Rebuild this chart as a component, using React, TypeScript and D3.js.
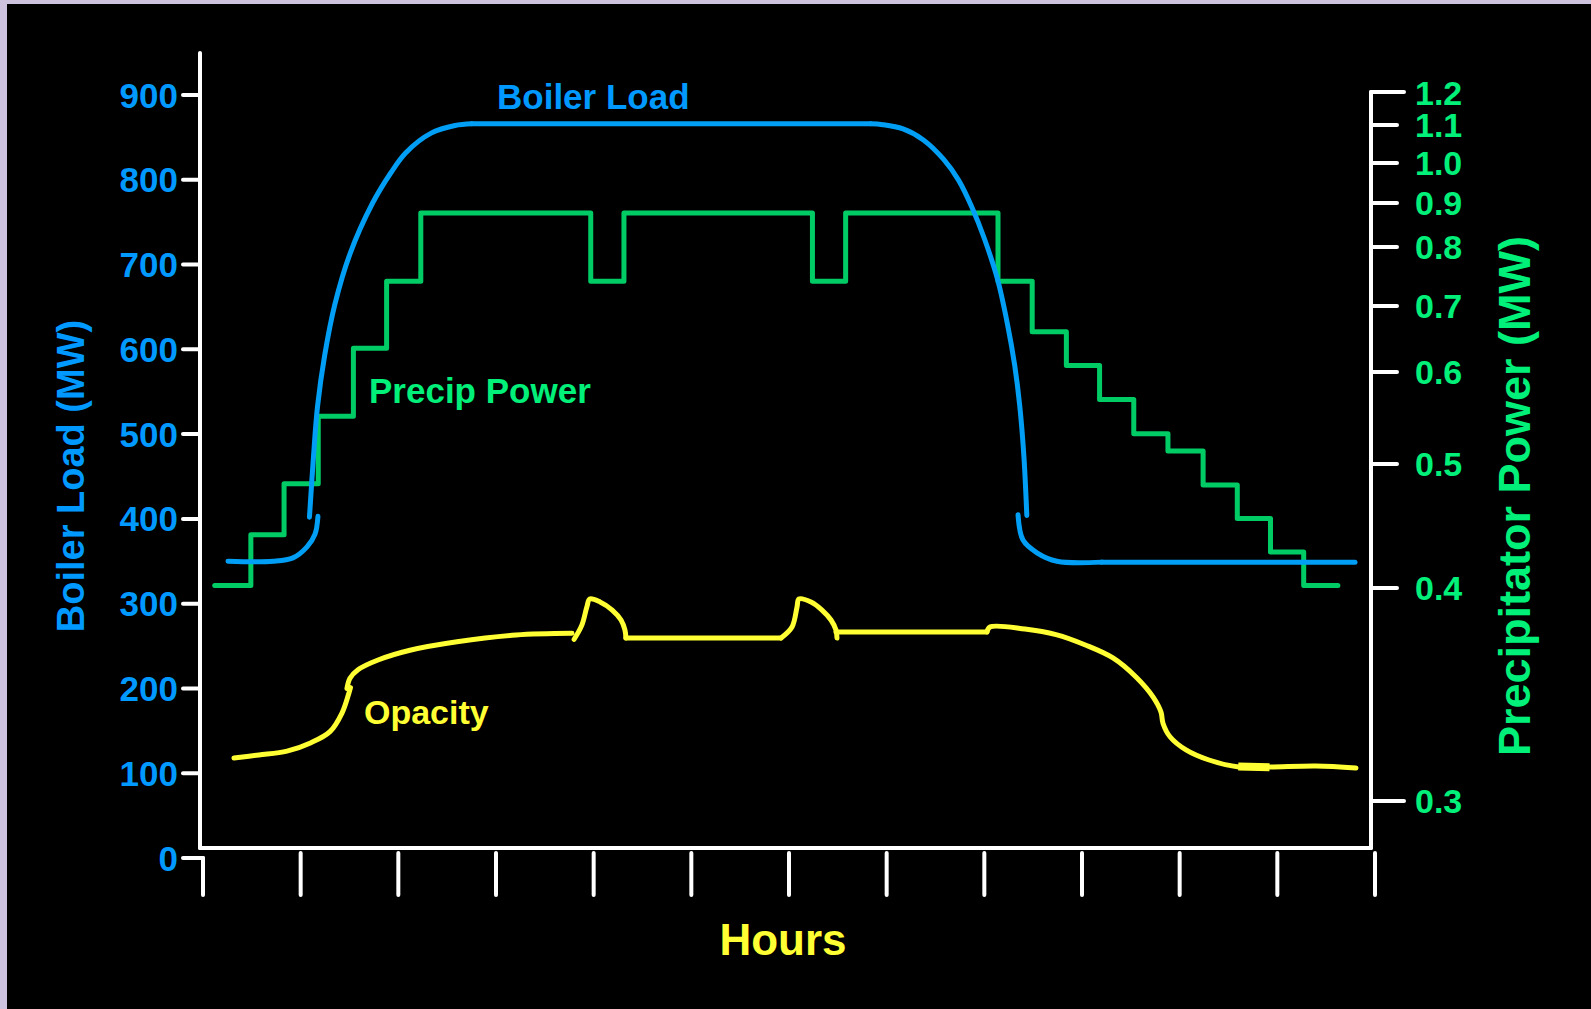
import React from "react";
import * as d3 from "d3";

// ---------- data ----------
const hourTicks = [0, 1, 2, 3, 4, 5, 6, 7, 8, 9, 10, 11, 12];
const loadTicks = [0, 100, 200, 300, 400, 500, 600, 700, 800, 900];
const powerTicks = [0.3, 0.4, 0.5, 0.6, 0.7, 0.8, 0.9, 1.0, 1.1, 1.2];
const powerTickLabels = ["0.3", "0.4", "0.5", "0.6", "0.7", "0.8", "0.9", "1.0", "1.1", "1.2"];

// Boiler load (MW) — [hour, MW], drawn as separate hand-drawn strokes
const boilerLow = [[0.256, 350], [0.717, 350], [0.921, 354], [1.065, 367], [1.147, 382], [1.177, 403]];
const boilerRise = [[1.09, 402], [1.131, 473], [1.173, 533], [1.246, 593], [1.35, 653], [1.506, 713], [1.734, 772], [1.922, 808], [2.077, 832], [2.336, 855], [2.58, 864], [2.752, 866]];
const boilerPlateau = [[2.752, 866], [6.836, 866]];
const boilerFall = [[6.836, 866], [6.96, 865], [7.168, 860], [7.376, 847], [7.584, 824], [7.739, 799], [7.875, 767], [7.999, 731], [8.134, 683], [8.238, 629], [8.311, 581], [8.363, 533], [8.405, 474], [8.435, 404]];
const boilerTail = [[8.345, 405], [8.396, 375], [8.539, 360], [8.744, 350], [9.2, 349]];
const boilerTailFlat = [[9.2, 349], [11.795, 349]];

// Precipitator power (MW) — [hour, MW] step changes
const precipSteps = [
  [0.12, 0.402], [0.49, 0.443], [0.83, 0.484], [1.18, 0.552], [1.54, 0.636], [1.88, 0.742], [2.23, 0.877],
  [3.97, 0.742], [4.31, 0.877], [6.24, 0.742], [6.58, 0.877], [8.14, 0.742], [8.49, 0.661], [8.84, 0.61],
  [9.18, 0.57], [9.53, 0.533], [9.88, 0.514], [10.24, 0.483], [10.59, 0.456], [10.93, 0.429], [11.27, 0.402], [11.62, 0.402],
];

// Opacity — [hour, value on load axis]
const opacityRise = [[0.317, 118], [0.573, 121.5], [0.86, 126], [1.106, 136], [1.3, 149], [1.423, 171], [1.49, 193], [1.51, 201]];
const opacityClimb = [[1.474, 200], [1.505, 212], [1.587, 222], [1.792, 233.5], [2.119, 245], [2.601, 255], [3.205, 263], [3.778, 265]];
const opacityBump1 = [[3.8, 258], [3.88, 275], [3.93, 296], [3.96, 305.5], [4.065, 302], [4.19, 292.5], [4.28, 280.7], [4.32, 269], [4.33, 259.5]];
const opacityFlat1 = [[4.33, 259.5], [5.918, 259.5]];
const opacityBump2 = [[5.918, 259.5], [6.031, 272.5], [6.082, 296], [6.102, 305.5], [6.225, 302], [6.338, 292.5], [6.43, 280.7], [6.481, 268.9], [6.491, 259.5]];
const opacityFlat2 = [[6.481, 266.6], [8.027, 266.6]];
const opacityFall = [[8.027, 266.6], [8.058, 272.5], [8.416, 270], [8.734, 263.5], [9.041, 251], [9.317, 236], [9.553, 213.5], [9.727, 190], [9.809, 172], [9.829, 159], [9.901, 143], [10.065, 127.5], [10.3, 115.6], [10.607, 107.3], [10.925, 107.3], [11.396, 108.5], [11.805, 106.2]];
const opacityBlob = [[10.6, 108], [10.92, 107]];

// ---------- layout ----------
const W = 1591;
const H = 1009;
const BLUE = "#0099ff";
const BLUE_LINE = "#009ff5";
const GREEN_TEXT = "#00f07a";
const GREEN_LINE = "#00cc66";
const YELLOW = "#ffff33";
const FONT = "'Liberation Sans', Arial, Helvetica, sans-serif";

export default function App() {
  const x = d3.scaleLinear().domain([0, 12]).range([203, 1375]);
  const yL = d3.scaleLinear().domain([0, 900]).range([858, 95]);
  const yR = d3.scaleLinear().domain(powerTicks).range([801, 588, 464, 372, 306, 247, 203, 163, 125, 92]);

  const smooth = d3.curveCatmullRom.alpha(0.5);
  const lineL = d3.line<number[]>().x((d) => x(d[0])).y((d) => yL(d[1])).curve(smooth);
  const lineLin = d3.line<number[]>().x((d) => x(d[0])).y((d) => yL(d[1]));
  const stepR = d3.line<number[]>().x((d) => x(d[0])).y((d) => yR(d[1])).curve(d3.curveStepAfter);

  const boilerSegs = [boilerLow, boilerRise, boilerPlateau, boilerFall, boilerTail, boilerTailFlat];
  const opacitySegs = [opacityRise, opacityClimb, opacityBump1, opacityFlat1, opacityBump2, opacityFlat2, opacityFall];

  const axisX0 = 200;
  const axisX1 = 1371;
  const axisY = 848;

  return (
    <svg
      width={W}
      height={H}
      viewBox={`0 0 ${W} ${H}`}
      style={{ position: "fixed", left: 0, top: 0, display: "block" }}
      fontFamily={FONT}
      fontWeight="bold"
    >
      <rect x={0} y={0} width={W} height={H} fill="#cdc3de" />
      <rect x={7} y={4} width={W - 7} height={H - 4} fill="#000" />

      {/* axes lines */}
      <g stroke="#fff" strokeWidth={4} strokeLinecap="round" fill="none">
        <line x1={axisX0} y1={53} x2={axisX0} y2={axisY} />
        <line x1={axisX0} y1={axisY} x2={axisX1} y2={axisY} />
        <line x1={axisX1} y1={yR(1.2)} x2={axisX1} y2={axisY} />
        {loadTicks.map((v) => (
          <line key={"lt" + v} x1={183} x2={v === 0 ? x(0) : axisX0} y1={yL(v)} y2={yL(v)} />
        ))}
        {powerTicks.map((v, i) => (
          <line
            key={"rt" + v}
            x1={axisX1}
            x2={i === 0 || i === powerTicks.length - 1 ? 1404 : 1397}
            y1={yR(v)}
            y2={yR(v)}
          />
        ))}
        {hourTicks.map((h) => (
          <line key={"xt" + h} x1={x(h)} x2={x(h)} y1={h === 0 ? yL(0) : 853} y2={895} />
        ))}
      </g>

      {/* tick labels */}
      <g fill={BLUE} fontSize={35} textAnchor="end">
        {loadTicks.map((v) => (
          <text key={"ll" + v} x={178} y={yL(v)} dy="0.36em">
            {v}
          </text>
        ))}
      </g>
      <g fill={GREEN_TEXT} fontSize={34} textAnchor="start">
        {powerTicks.map((v, i) => (
          <text key={"rl" + v} x={1415} y={yR(v) + (i === powerTicks.length - 1 ? 1 : 0)} dy="0.36em">
            {powerTickLabels[i]}
          </text>
        ))}
      </g>

      {/* axis titles */}
      <text transform="translate(84,476) rotate(-90)" textAnchor="middle" fill={BLUE} fontSize={38}>
        Boiler Load (MW)
      </text>
      <text transform="translate(1530,496) rotate(-90)" textAnchor="middle" fill={GREEN_TEXT} fontSize={45}>
        Precipitator Power (MW)
      </text>
      <text x={783} y={955} textAnchor="middle" fill={YELLOW} fontSize={44}>
        Hours
      </text>

      {/* series */}
      <path d={stepR(precipSteps) || ""} fill="none" stroke={GREEN_LINE} strokeWidth={5} strokeLinecap="round" strokeLinejoin="round" />
      {boilerSegs.map((s, i) => (
        <path key={"b" + i} d={(s.length === 2 ? lineLin(s) : lineL(s)) || ""} fill="none" stroke={BLUE_LINE} strokeWidth={5} strokeLinecap="round" />
      ))}
      {opacitySegs.map((s, i) => (
        <path key={"o" + i} d={(s.length === 2 ? lineLin(s) : lineL(s)) || ""} fill="none" stroke={YELLOW} strokeWidth={5} strokeLinecap="round" strokeLinejoin="round" />
      ))}
      <path d={lineLin(opacityBlob) || ""} fill="none" stroke={YELLOW} strokeWidth={8} />

      {/* series labels */}
      <text x={497} y={109} fill={BLUE} fontSize={35}>
        Boiler Load
      </text>
      <text x={369} y={403} fill={GREEN_TEXT} fontSize={35}>
        Precip Power
      </text>
      <text x={364} y={724} fill={YELLOW} fontSize={34}>
        Opacity
      </text>
    </svg>
  );
}
